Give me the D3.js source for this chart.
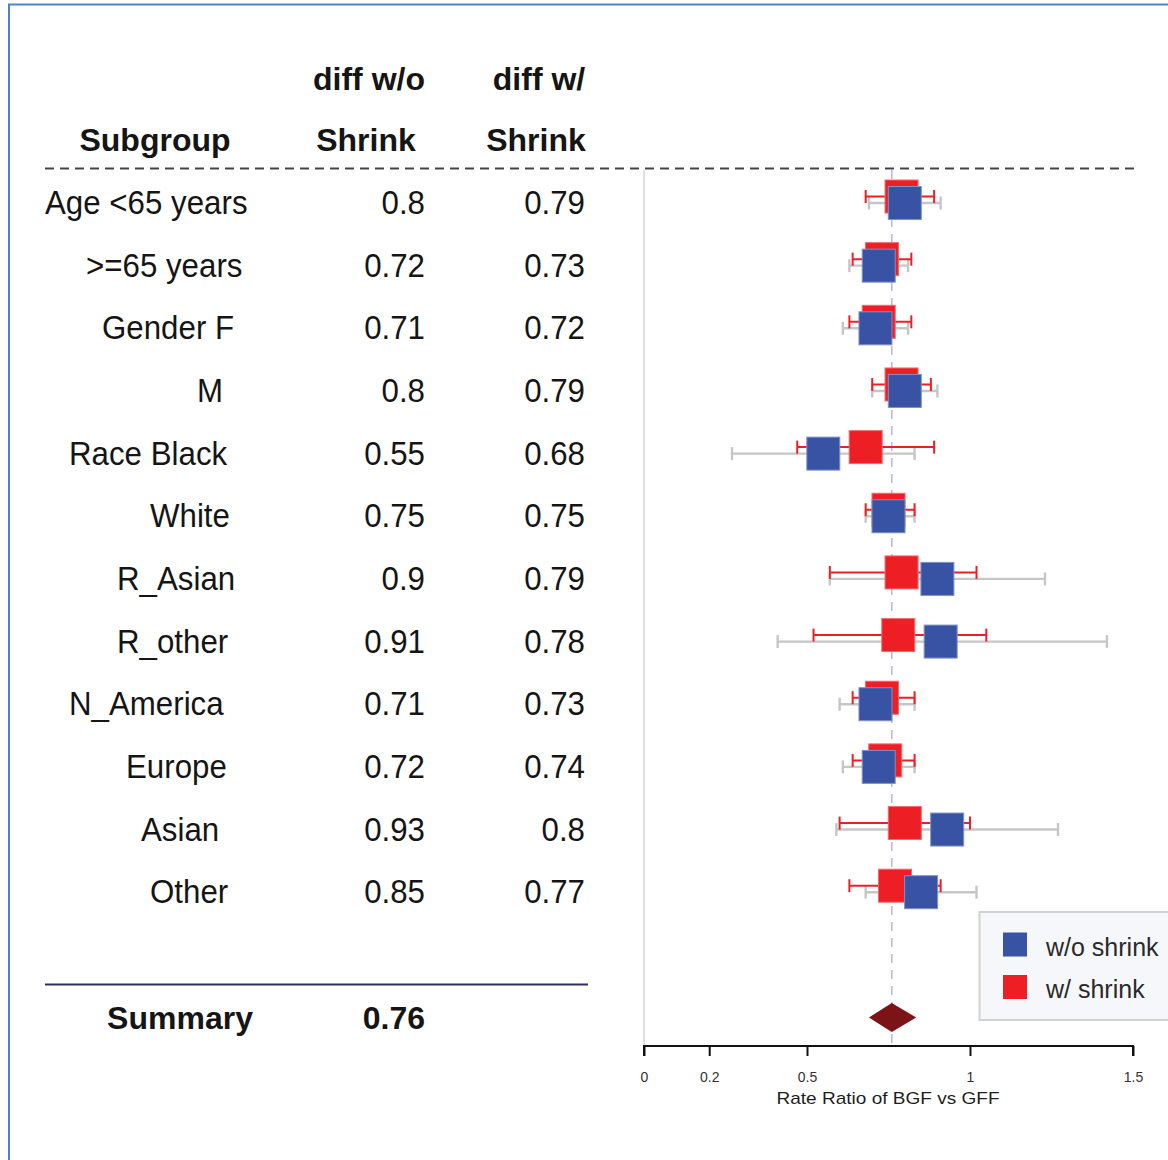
<!DOCTYPE html>
<html>
<head>
<meta charset="utf-8">
<script src="https://cdn.jsdelivr.net/npm/d3@7"></script>
<style>
  html, body { margin: 0; padding: 0; background: #ffffff; }
  svg { display: block; font-family: "Liberation Sans", Arial, sans-serif; }
</style>
</head>
<body>
<svg id="chart" width="1168" height="1160"></svg>
<script>
// ---- data ----
const subgroups = ["Age <65 years", ">=65 years", "Gender F", "M", "Race Black", "White",
                   "R_Asian", "R_other", "N_America", "Europe", "Asian", "Other"];
const diffNoShrink = [0.8, 0.72, 0.71, 0.8, 0.55, 0.75, 0.9, 0.91, 0.71, 0.72, 0.93, 0.85];
const diffShrink   = [0.79, 0.73, 0.72, 0.79, 0.68, 0.75, 0.79, 0.78, 0.73, 0.74, 0.8, 0.77];
const lowerNoShrink = [0.69, 0.63, 0.61, 0.70, 0.27, 0.68, 0.57, 0.41, 0.60, 0.61, 0.59, 0.68];
const upperNoShrink = [0.91, 0.81, 0.81, 0.90, 0.83, 0.83, 1.23, 1.42, 0.83, 0.83, 1.27, 1.02];
const lowerShrink   = [0.68, 0.64, 0.63, 0.70, 0.47, 0.68, 0.57, 0.52, 0.64, 0.64, 0.60, 0.63];
const upperShrink   = [0.89, 0.82, 0.82, 0.88, 0.89, 0.83, 1.02, 1.05, 0.83, 0.83, 1.00, 0.91];
const summaryLabel = "Summary";
const summaryValue = 0.76;
const summaryCI = [0.69, 0.835];
const tickValues = [0, 0.2, 0.5, 1, 1.5];
const tickLabels = ["0", "0.2", "0.5", "1", "1.5"];
const headerCol1 = ["diff w/o", "Shrink"];
const headerCol2 = ["diff w/", "Shrink"];
const headerLabel = "Subgroup";
const seriesNames = ["w/o shrink", "w/ shrink"];
const axisTitle = "Rate Ratio of BGF vs GFF";

// ---- layout ----
const labelX = [45, 86, 102, 197, 69, 150, 117, 117, 69, 126, 141, 150];
const col1Right = 425, col2Right = 585;
const blue = "#3953a4", red = "#ed1f24", whiskerGray = "#c6c6c6";
const textColor = "#151515";
const boxSize = 33;
const redShift = -6.5;

const svg = d3.select("#chart");

// frame
svg.append("rect").attr("x", 9).attr("y", 4.5).attr("width", 1200).attr("height", 1200)
  .attr("fill", "none").attr("stroke", "#4e82c4").attr("stroke-width", 2);

// x scale (rate ratio) and row scale
const x = d3.scaleLinear().domain([0, 1.5]).range([644, 1133]);
const y = d3.scaleLinear().domain([0, 13]).range([203, 1017.5]);
const axisY = 1046, plotTop = 170;

// header
const hdr = svg.append("g").attr("font-weight", "bold").attr("font-size", 32).attr("fill", textColor);
hdr.append("text").attr("x", 155).attr("y", 151).attr("text-anchor", "middle").text(headerLabel);
hdr.append("text").attr("x", 369).attr("y", 90).attr("text-anchor", "middle").text(headerCol1[0]);
hdr.append("text").attr("x", 366).attr("y", 151).attr("text-anchor", "middle").text(headerCol1[1]);
hdr.append("text").attr("x", 539).attr("y", 90).attr("text-anchor", "middle").text(headerCol2[0]);
hdr.append("text").attr("x", 536).attr("y", 151).attr("text-anchor", "middle").text(headerCol2[1]);

// dashed header rule
svg.append("line").attr("x1", 45).attr("x2", 1135).attr("y1", 168.5).attr("y2", 168.5)
  .attr("stroke", "#444").attr("stroke-width", 2).attr("stroke-dasharray", "9,6");

// table rows (regular text, slightly condensed)
const sx = 0.92;
const rows = svg.append("g").attr("font-size", 34).attr("fill", textColor);
subgroups.forEach((s, i) => {
  const by = y(i) + 11;
  rows.append("text").attr("transform", `translate(${labelX[i]},${by}) scale(${sx},1)`).text(s);
  rows.append("text").attr("transform", `translate(${col1Right},${by}) scale(${sx},1)`)
    .attr("text-anchor", "end").text(String(diffNoShrink[i]));
  rows.append("text").attr("transform", `translate(${col2Right},${by}) scale(${sx},1)`)
    .attr("text-anchor", "end").text(String(diffShrink[i]));
});

// summary rule and row
svg.append("line").attr("x1", 45).attr("x2", 588).attr("y1", 984.5).attr("y2", 984.5)
  .attr("stroke", "#2b2f66").attr("stroke-width", 2.2);
const sumG = svg.append("g").attr("font-weight", "bold").attr("font-size", 32).attr("fill", textColor);
sumG.append("text").attr("x", 180).attr("y", y(13) + 11.5).attr("text-anchor", "middle").text(summaryLabel);
sumG.append("text").attr("x", col1Right).attr("y", y(13) + 11.5).attr("text-anchor", "end").text(summaryValue.toFixed(2));

// reference lines
svg.append("line").attr("x1", x(0)).attr("x2", x(0)).attr("y1", plotTop).attr("y2", axisY)
  .attr("stroke", "#d6d6d6").attr("stroke-width", 1.5);
svg.append("line").attr("x1", x(summaryValue)).attr("x2", x(summaryValue)).attr("y1", plotTop).attr("y2", axisY)
  .attr("stroke", "#b9b9e6").attr("stroke-width", 1.6).attr("stroke-dasharray", "9,7");

// whiskers
function whisker(g, lo, hi, cy, color, w) {
  g.append("line").attr("x1", x(lo)).attr("x2", x(hi)).attr("y1", cy).attr("y2", cy)
    .attr("stroke", color).attr("stroke-width", w);
  [lo, hi].forEach(v => g.append("line").attr("x1", x(v)).attr("x2", x(v))
    .attr("y1", cy - 6.5).attr("y2", cy + 6.5).attr("stroke", color).attr("stroke-width", w));
}
const wg = svg.append("g");
subgroups.forEach((s, i) => whisker(wg, lowerNoShrink[i], upperNoShrink[i], y(i), whiskerGray, 2.4));
subgroups.forEach((s, i) => whisker(wg, lowerShrink[i], upperShrink[i], y(i) + redShift, red, 2));

// boxes
svg.append("g").selectAll("rect").data(diffShrink).join("rect")
  .attr("x", d => x(d) - boxSize / 2).attr("y", (d, i) => y(i) + redShift - boxSize / 2)
  .attr("width", boxSize).attr("height", boxSize)
  .attr("fill", red).attr("stroke", "#f36a6e").attr("stroke-width", 1);
svg.append("g").selectAll("rect").data(diffNoShrink).join("rect")
  .attr("x", d => x(d) - boxSize / 2).attr("y", (d, i) => y(i) - boxSize / 2)
  .attr("width", boxSize).attr("height", boxSize)
  .attr("fill", blue).attr("stroke", "#7f91c8").attr("stroke-width", 1);

// summary diamond
const dy = y(13);
svg.append("path")
  .attr("d", `M${x(summaryCI[0])},${dy} L${x(summaryValue)},${dy - 14.5} L${x(summaryCI[1])},${dy} L${x(summaryValue)},${dy + 14.5} Z`)
  .attr("fill", "#7c1417");

// x axis
const axis = d3.axisBottom(x).tickValues(tickValues).tickSize(10)
  .tickFormat((d, i) => tickLabels[i]);
const ag = svg.append("g").attr("transform", `translate(0,${axisY})`).call(axis);
ag.select(".domain").attr("stroke", "#111").attr("stroke-width", 2).attr("d", `M${x(0)},10V0H${x(1.5)}V10`);
ag.selectAll(".tick line").attr("stroke", "#111").attr("stroke-width", 2);
ag.selectAll(".tick text").attr("font-size", 14).attr("fill", "#333")
  .attr("font-family", "Liberation Sans, Arial, sans-serif").attr("y", 32).attr("dy", "0.32em");
svg.append("text").attr("transform", `translate(888,1104) scale(1.12,1)`)
  .attr("text-anchor", "middle").attr("font-size", 17).attr("fill", "#1e1e1e").text(axisTitle);

// legend
const lg = svg.append("g");
lg.append("rect").attr("x", 979.5).attr("y", 912).attr("width", 260).attr("height", 108)
  .attr("fill", "#f5f7fa").attr("stroke", "#d2d2d2").attr("stroke-width", 2);
[blue, red].forEach((c, i) => {
  lg.append("rect").attr("x", 1003).attr("y", 932.5 + i * 42.5).attr("width", 24).attr("height", 24)
    .attr("fill", c);
  lg.append("text").attr("x", 1046).attr("y", 956 + i * 42)
    .attr("font-size", 25).attr("fill", "#2a2a2a").text(seriesNames[i]);
});
</script>
</body>
</html>
